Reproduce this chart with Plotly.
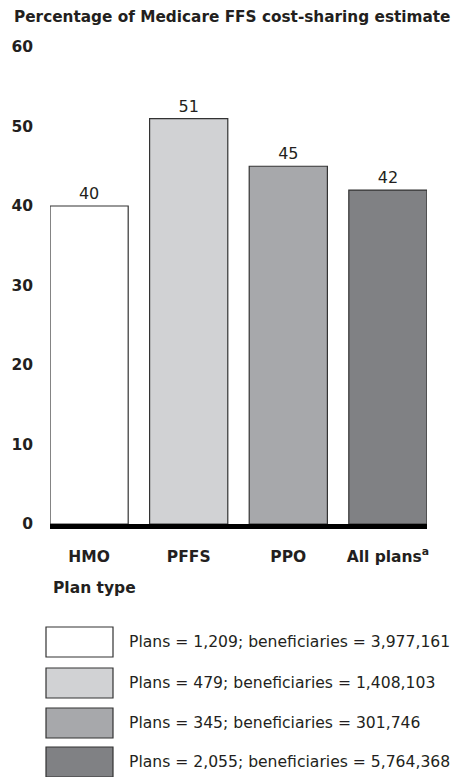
import plotly.graph_objects as go

categories = ["HMO", "PFFS", "PPO", "All plans<sup>a</sup>"]
values = [40, 51, 45, 42]
colors = ["#ffffff", "#d1d2d4", "#a7a8ab", "#808184"]
legend_labels = [
    "Plans = 1,209; beneficiaries = 3,977,161",
    "Plans = 479; beneficiaries = 1,408,103",
    "Plans = 345; beneficiaries = 301,746",
    "Plans = 2,055; beneficiaries = 5,764,368",
]
y_ticks = [0, 10, 20, 30, 40, 50, 60]

OFF = 8  # page body margin
W, H = 462 - OFF, 777 - OFF
L, R, T, B = 50 - OFF, 35, 47 - OFF, 253
PH = H - T - B
PW = W - L - R

def py(pix):
    return (H - B - (pix - OFF)) / PH

def px(pix):
    return ((pix - OFF) - L) / PW

FONT = "DejaVu Sans, Liberation Sans, Arial, sans-serif"
TXT = "#231f20"

fig = go.Figure()
fig.add_trace(go.Bar(
    x=list(range(len(categories))),
    y=values,
    width=0.785,
    marker=dict(color=colors, line=dict(color="#333333", width=1.2)),
    text=[str(v) for v in values],
    textposition="outside",
    textfont=dict(size=16, color=TXT, family=FONT),
    cliponaxis=False,
    showlegend=False,
))

shapes = []
annotations = []
box_tops = [627, 668, 708, 747]
for i, lab in enumerate(legend_labels):
    t = box_tops[i]
    shapes.append(dict(type="rect", xref="paper", yref="paper",
                       x0=px(46), x1=px(113), y0=py(t), y1=py(t + 30),
                       fillcolor=colors[i], line=dict(color="#333333", width=1.2)))
    annotations.append(dict(xref="paper", yref="paper", x=px(127), y=py(t + 15),
                            text=lab, showarrow=False, xanchor="left", yanchor="middle",
                            font=dict(size=15.6, color=TXT, family=FONT)))

annotations.append(dict(xref="paper", yref="paper", x=px(51), y=py(588),
                        text="<b>Plan type</b>", showarrow=False, xanchor="left", yanchor="middle",
                        font=dict(size=15.5, color=TXT, family=FONT)))

fig.update_layout(
    width=W, height=H,
    margin=dict(l=L, r=R, t=T, b=B, autoexpand=False),
    paper_bgcolor="white", plot_bgcolor="white",
    title=dict(text="<b>Percentage of Medicare FFS cost-sharing estimate</b>",
               x=(14 - OFF) / W, xanchor="left", xref="container",
               y=1 - (17 - OFF) / H, yanchor="middle", yref="container",
               font=dict(size=15.3, color=TXT, family=FONT)),
    xaxis=dict(tickmode="array", tickvals=list(range(len(categories))),
               ticktext=["<b>" + c + "</b>" for c in categories],
               range=[-0.3925, 3.3925], showgrid=False, zeroline=False,
               showline=True, linecolor="#000000", linewidth=5,
               ticks="", ticklabelstandoff=14,
               tickfont=dict(size=15.5, color=TXT, family=FONT)),
    yaxis=dict(range=[0, 60], tickvals=y_ticks,
               ticktext=["<b>%d</b>" % v for v in y_ticks],
               showgrid=False, zeroline=False, showline=False, ticks="",
               ticklabelstandoff=16,
               tickfont=dict(size=15.5, color=TXT, family=FONT)),
    shapes=shapes,
    annotations=annotations,
    bargap=0.2,
)

fig.write_html("out.html")
